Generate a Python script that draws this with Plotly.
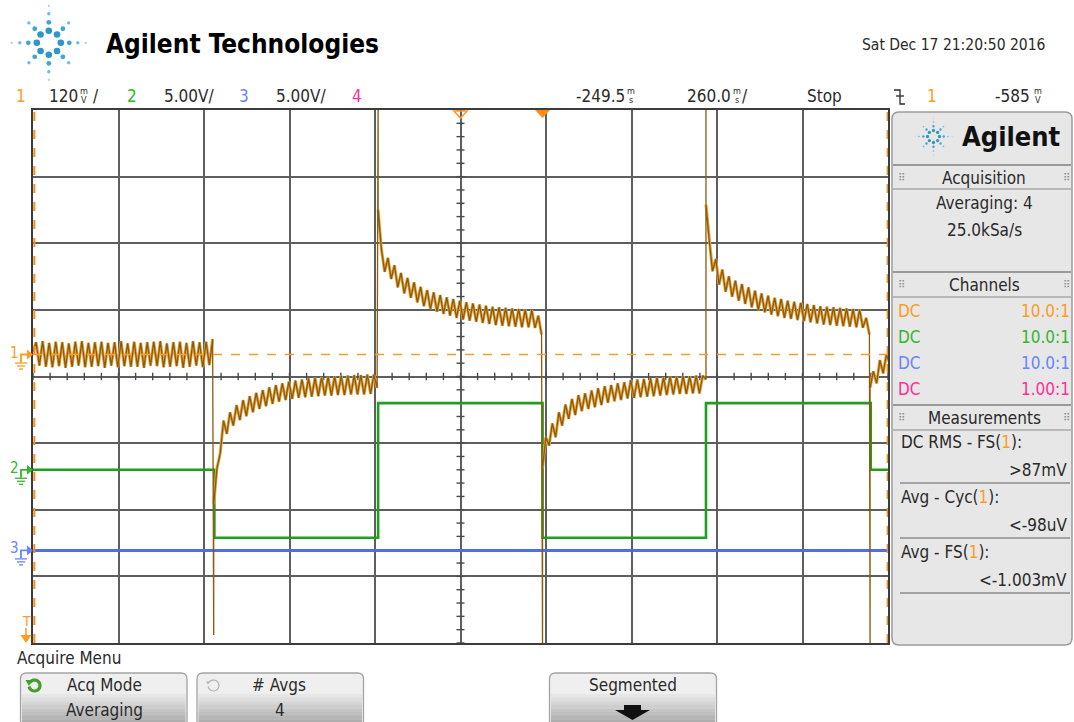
import math
import plotly.graph_objects as go

W, H = 1074, 722
GX0, GX1, GY0, GY1 = 33, 888, 110, 643          # graticule box (px)

# ---- acquisition / display settings ----
TIME_CENTER_MS = -249.5
MS_PER_DIV = 260.0
N_HDIV, N_VDIV = 10, 8
CH1_MV_PER_DIV = 120.0
CH2_V_PER_DIV = 5.0
CH3_V_PER_DIV = 5.0
CH1_POS_DIV = 0.33
CH2_POS_DIV = -1.40
CH3_POS_DIV = -2.61
SAMPLE_MS = 9.94

# ---- channel 1 (mV): averaged record, split at the switching edges ----
ch1_seg_start_ms = [-1550, -1000, -500, 0, 497, 996]
ch1_edge_peak_mv = [-505, 470, -540, 470, -540]
ch1_seg_a = [5, 22, -20, 24, -22, 21, -23, 23, -21, 22, -24, 20, -22, 23, -20, 24, -23, 21, -22, 22,
             -21, 23, -24, 21, -20, 22, -23, 24, -21, 20, -22, 23, -22, 21, -24, 22, -20, 23, -21, 24,
             -23, 20, -22, 22, -21, 23, -24, 21, -22, 24, -20, 22, -23, 23, -19, 28]
ch1_seg_b = [-270, -205, -178, -119, -143, -104, -128, -91, -118, -82, -111, -75, -104, -69, -98, -64,
             -93, -59, -89, -55, -85, -52, -82, -49, -80, -47, -78, -45, -77, -43, -76, -42, -75, -41,
             -74, -40, -74, -39, -73, -38, -73, -38, -72, -37, -72, -37, -72, -36, -71, -36, -60]
ch1_seg_c = [261, 190, 149, 174, 136, 161, 121, 147, 110, 138, 102, 130, 94, 122, 87, 116, 82, 112, 77,
             107, 73, 103, 70, 100, 66, 97, 63, 94, 61, 92, 59, 90, 57, 88, 55, 86, 53, 85, 52, 84, 51,
             83, 50, 82, 49, 81, 49, 80, 48, 70, 36]
ch1_seg_d = [-205, -149, -164, -124, -149, -104, -128, -90, -116, -80, -109, -73, -102, -70, -98, -65,
             -95, -61, -91, -57, -87, -55, -84, -52, -82, -50, -79, -46, -78, -45, -77, -44, -76, -43,
             -75, -42, -74, -41, -73, -40, -72, -40, -71, -39, -71, -39, -70, -38, -70, -38, -45]
ch1_seg_e = [270, 205, 150, 172, 126, 153, 113, 141, 104, 133, 97, 127, 91, 121, 85, 115, 80, 110, 76,
             106, 72, 102, 69, 100, 66, 97, 64, 95, 62, 93, 60, 91, 58, 89, 56, 87, 54, 86, 53, 85, 52,
             84, 51, 83, 50, 82, 49, 81, 48, 66, 36]
ch1_seg_f = [-60, -30, -52, -10, -34, 0, -16]

# ---- channel 2 (V): drive square wave, channel 3 (V): flat ----
ch2_edge_ms = [-1550, -998, -500, 0, 497, 998, 1051]
ch2_level_v = [0, -5.1, 5.0, -5.1, 5.0, 0, 0]
ch3_ms = [-1550, 1051]
ch3_v = [0, 0]

# ---- readouts ----
channel_probe = [("DC", "10.0:1"), ("DC", "10.0:1"), ("DC", "10.0:1"), ("DC", "1.00:1")]
measurements = [("DC RMS - FS", ">87mV"), ("Avg - Cyc", "<-98uV"), ("Avg - FS", "<-1.003mV")]

C1, C2, C3, C4 = "#ff9b1f", "#35b52a", "#6c82ff", "#ff2e95"
C1_HALO, C1_TRACE, C2_TRACE, C3_TRACE = "#e3a545", "#8c5a0a", "#1f9e1f", "#4d6ee8"
TXT = "#2a2a2a"
FONT = "Liberation Sans Narrow, DejaVu Sans Condensed, Arial Narrow, sans-serif"

T_LEFT = TIME_CENTER_MS - N_HDIV / 2 * MS_PER_DIV
T_RIGHT = TIME_CENTER_MS + N_HDIV / 2 * MS_PER_DIV


def t_px(t):
    return GX0 + (t - T_LEFT) / (T_RIGHT - T_LEFT) * (GX1 - GX0)


def div_py(d):
    return (GY0 + GY1) / 2 - d * (GY1 - GY0) / N_VDIV


def X(px):
    return px / W


def Y(py):
    return 1 - py / H


shapes, annotations = [], []


def text(x, y, s, size=17, color=TXT, anchor="left", bold=False, family=FONT):
    annotations.append(dict(x=X(x), y=Y(y), xref="paper", yref="paper", text=s, showarrow=False,
                            xanchor=anchor, yanchor="middle", borderpad=0,
                            font=dict(size=size, color=color, family=family,
                                      weight="bold" if bold else "normal")))


def stacked(x, y, top, bottom, color=TXT, size=9):
    text(x, y - 4.5, top, size=size, color=color, anchor="center")
    text(x, y + 4.5, bottom, size=size, color=color, anchor="center")


def line(x0, y0, x1, y1, color, width=1, dash=None):
    shapes.append(dict(type="line", xref="paper", yref="paper", x0=X(x0), y0=Y(y0), x1=X(x1),
                       y1=Y(y1), line=dict(color=color, width=width, dash=dash)))


def rect(x0, y0, x1, y1, fill, lc=None, lw=0):
    shapes.append(dict(type="rect", xref="paper", yref="paper", x0=X(x0), y0=Y(y0), x1=X(x1),
                       y1=Y(y1), fillcolor=fill, line=dict(color=lc or fill, width=lw)))


def circle(cx, cy, r, fill=None, lc=None, lw=0):
    shapes.append(dict(type="circle", xref="paper", yref="paper", x0=X(cx - r), y0=Y(cy + r),
                       x1=X(cx + r), y1=Y(cy - r), fillcolor=fill or "rgba(0,0,0,0)",
                       line=dict(color=lc or "rgba(0,0,0,0)", width=lw)))


def poly(pts, fill=None, lc=None, lw=0, closed=True):
    d = "M " + " L ".join(f"{X(x):.5f},{Y(y):.5f}" for x, y in pts) + (" Z" if closed else "")
    shapes.append(dict(type="path", xref="paper", yref="paper", path=d,
                       fillcolor=fill or "rgba(0,0,0,0)",
                       line=dict(color=lc or "rgba(0,0,0,0)", width=lw)))


def rrect(x0, y0, x1, y1, r, fill=None, lc=None, lw=0):
    def p(x, y):
        return f"{X(x):.5f},{Y(y):.5f}"
    d = (f"M {p(x0 + r, y0)} L {p(x1 - r, y0)} Q {p(x1, y0)} {p(x1, y0 + r)} "
         f"L {p(x1, y1 - r)} Q {p(x1, y1)} {p(x1 - r, y1)} L {p(x0 + r, y1)} "
         f"Q {p(x0, y1)} {p(x0, y1 - r)} L {p(x0, y0 + r)} Q {p(x0, y0)} {p(x0 + r, y0)} Z")
    shapes.append(dict(type="path", xref="paper", yref="paper", path=d,
                       fillcolor=fill or "rgba(0,0,0,0)",
                       line=dict(color=lc or "rgba(0,0,0,0)", width=lw)))


def starburst(cx, cy, s):
    ring_r = [12, 20.5, 29, 37]
    dot_r = [3.3, 2.4, 1.7, 1.1]
    shades = ["#2d97c9", "#3ea6d4", "#6cbde1", "#9dd2eb"]
    for k in range(8):
        a = math.radians(k * 45)
        n = 4 if k % 2 == 0 else 3
        for j in range(n):
            rr = ring_r[j] * s * (0.97 if k % 2 else 1.0)
            circle(cx + rr * math.cos(a), cy + rr * math.sin(a), dot_r[j] * s, fill=shades[j])


def arc(cx, cy, r, a0, a1, n=20):
    return [(cx + r * math.cos(math.radians(a0 + (a1 - a0) * i / n)),
             cy + r * math.sin(math.radians(a0 + (a1 - a0) * i / n))) for i in range(n + 1)]


# ---------------- header ----------------
starburst(48.8, 42.8, 1.0)
text(105, 44, "Agilent Technologies", size=26, color="#000", bold=True)
text(1046, 45, "Sat Dec 17 21:20:50 2016", size=15.5, anchor="right")

HY = 96
text(21, HY, "1", color=C1, anchor="center")
text(79, HY, "120", anchor="right")
stacked(84, HY, "m", "V")
text(96, HY, "/", anchor="center")
text(132, HY, "2", color=C2, anchor="center")
text(189, HY, "5.00V/", anchor="center")
text(244, HY, "3", color=C3, anchor="center")
text(301, HY, "5.00V/", anchor="center")
text(357, HY, "4", color=C4, anchor="center")
text(626, HY, "-249.5", anchor="right")
stacked(631, HY, "m", "s")
text(732, HY, "260.0", anchor="right")
stacked(736.5, HY, "m", "s")
text(745, HY, "/", anchor="center")
text(824, HY, "Stop", anchor="center")
poly([(894, 90), (900, 90), (900, 104), (905, 104)], lc=TXT, lw=1.3, closed=False)
line(896, 96, 904, 96, TXT, 1.3)
text(932, HY, "1", color=C1, anchor="center")
text(1031, HY, "-585", anchor="right")
stacked(1038, HY, "m", "V")

# ---------------- side panel ----------------
rrect(892, 112, 1072, 645, 7, fill="#e7e7e7", lc="#9c9c9c", lw=1.5)
starburst(933.5, 136.5, 0.5)
text(1011, 137, "Agilent", size=27, color="#111", bold=True, anchor="center")
for (ya, yb, title) in [(165, 189, "Acquisition"), (272, 297, "Channels"), (405, 430, "Measurements")]:
    line(893, ya, 1071, ya, "#9a9a9a", 2)
    line(893, yb, 1071, yb, "#a8a8a8", 1.5)
    text(984, (ya + yb) / 2 + 0.5, title, size=17, anchor="center")
    text(901, (ya + yb) / 2, "⠿", size=10, color="#8a8a8a", anchor="center", family="DejaVu Sans")
    text(1066, (ya + yb) / 2, "⠿", size=10, color="#8a8a8a", anchor="center", family="DejaVu Sans")
text(984, 203, "Averaging: 4", size=17, anchor="center")
text(984, 230, "25.0kSa/s", size=17, anchor="center")
for i, (cpl, probe) in enumerate(channel_probe):
    col = [C1, C2, C3, C4][i]
    yy = 311 + i * 26
    text(897, yy, cpl, size=17, color=col)
    text(1071, yy, probe, size=17, color=col, anchor="right")
for i, (name, val) in enumerate(measurements):
    y0 = 442 + i * 55
    text(900, y0, f"{name}(<span style='color:{C1}'>1</span>):", size=17)
    text(1068, y0 + 28, val, size=17, anchor="right")
    line(900, y0 + 41, 1070, y0 + 41, "#8c8c8c", 1.3)

# ---------------- soft-key menu ----------------
text(16, 658, "Acquire Menu", size=17)


def button(x0, x1, y0=673, y1=735):
    rrect(x0, y0, x1, y1, 6, fill="#efefef")
    steps = 8
    for k in range(steps):
        g = int(0xe6 - (0xe6 - 0xae) * k / (steps - 1))
        rect(x0 + 1.5, 694 + k * 3.6, x1 - 1.5, 694 + (k + 1) * 3.6 + 0.3, f"rgb({g},{g},{g})")
    rrect(x0, y0, x1, y1, 6, lc="#a4a4a4", lw=1.3)


button(20.5, 187)
button(197, 363.5)
button(549.5, 716.5)
# mode icons
poly(arc(34.5, 685.5, 5.5, -150, 170), lc="#3f9f28", lw=3.2, closed=False)
poly([(25.5, 680), (32.5, 680), (29, 686)], fill="#3f9f28")
poly(arc(213.5, 685.5, 5.5, -150, 170), lc="#b4b4b4", lw=1.2, closed=False)
poly([(206, 681.5), (210, 681.5), (208, 684.5)], fill="#b4b4b4")
text(104, 685, "Acq Mode", size=17, anchor="center")
text(104, 710, "Averaging", size=17, anchor="center")
text(279, 685, "# Avgs", size=17, anchor="center")
text(280, 710, "4", size=17, anchor="center")
text(633, 685, "Segmented", size=17, anchor="center")
poly([(624, 705), (641, 705), (641, 710), (650, 710), (632.5, 720), (615, 710), (624, 710)], fill="#111")

# ---------------- graticule decorations ----------------
tick_x, tick_y = [], []
for k in range(-N_HDIV * 5 // 2, N_HDIV * 5 // 2 + 1):
    t = TIME_CENTER_MS + k * MS_PER_DIV / 5
    tick_x += [t, t, None]
    tick_y += [-0.055, 0.055, None]
half_w = 4.0 / (GX1 - GX0) * (T_RIGHT - T_LEFT)
for k in range(-N_VDIV * 5 // 2, N_VDIV * 5 // 2 + 1):
    d = k / 5
    tick_x += [TIME_CENTER_MS - half_w, TIME_CENTER_MS + half_w, None]
    tick_y += [d, d, None]

# orange cursors / reference level
shapes.append(dict(type="line", xref="x", yref="y", x0=T_LEFT, x1=T_RIGHT, y0=CH1_POS_DIV,
                   y1=CH1_POS_DIV, line=dict(color="#ff9a2a", width=1.4, dash="dash")))
for tx in (T_LEFT + 4, T_RIGHT - 1):
    shapes.append(dict(type="line", xref="x", yref="y", x0=tx, x1=tx, y0=-4, y1=4,
                       line=dict(color="#ff8c1a", width=2, dash="dash")))

# top markers: delay (hollow) and trigger point (filled)
cx = t_px(TIME_CENTER_MS)
poly([(cx - 6.5, 111), (cx + 6.5, 111), (cx, 118)], lc="#ff9a2a", lw=1.6)
tx = t_px(0)
poly([(tx - 7.5, 110), (tx + 7.5, 110), (tx, 118)], fill="#ff8c1a")


def ground_marker(py, color, label):
    text(14.5, py - 2, label, size=15, color=color, anchor="center")
    poly([(21, py + 8), (21, py), (27, py)], lc=color, lw=1.8, closed=False)
    poly([(27, py - 5), (33, py), (27, py + 5)], fill=color)
    line(15, py + 8.5, 27, py + 8.5, color, 1.3)
    line(17, py + 11.5, 25, py + 11.5, color, 1.3)
    line(19, py + 14.5, 23, py + 14.5, color, 1.3)


ground_marker(div_py(CH1_POS_DIV), C1, "1")
ground_marker(div_py(CH2_POS_DIV), C2, "2")
ground_marker(div_py(CH3_POS_DIV), C3, "3")
# trigger level marker
text(26, 621, "T", size=14, color=C1, anchor="center")
line(26, 628, 26, 637, C1, 1.5)
poly([(20.5, 635), (31.5, 635), (26, 643)], fill=C1)

# ---------------- traces ----------------
segments = [ch1_seg_a, ch1_seg_b, ch1_seg_c, ch1_seg_d, ch1_seg_e, ch1_seg_f]
t1, v1 = [], []          # full record including the edge spikes
th, vh = [], []          # ripple body only (broken at the edges)
for i, seg in enumerate(segments):
    t0 = ch1_seg_start_ms[i]
    for k, v in enumerate(seg):
        t1.append(t0 + k * SAMPLE_MS)
        v1.append(v)
        th.append(t0 + k * SAMPLE_MS)
        vh.append(v)
    th.append(None)
    vh.append(None)
    if i < len(ch1_edge_peak_mv):
        t1.append(ch1_seg_start_ms[i + 1])
        v1.append(ch1_edge_peak_mv[i])
y1 = [v / CH1_MV_PER_DIV + CH1_POS_DIV for v in v1]
yh = [None if v is None else v / CH1_MV_PER_DIV + CH1_POS_DIV for v in vh]
y2 = [v / CH2_V_PER_DIV + CH2_POS_DIV for v in ch2_level_v]
y3 = [v / CH3_V_PER_DIV + CH3_POS_DIV for v in ch3_v]

fig = go.Figure()
fig.add_trace(go.Scatter(x=tick_x, y=tick_y, mode="lines", line=dict(color="#4a4a4a", width=1.4),
                         hoverinfo="skip", showlegend=False))
fig.add_trace(go.Scatter(x=ch3_ms, y=y3, mode="lines", line=dict(color=C3_TRACE, width=3),
                         name="3", showlegend=False))
fig.add_trace(go.Scatter(x=ch2_edge_ms, y=y2, mode="lines", line=dict(color=C2_TRACE, width=2.6, shape="hv"),
                         name="2", showlegend=False))
fig.add_trace(go.Scatter(x=th, y=yh, mode="lines", line=dict(color=C1_HALO, width=3.0),
                         hoverinfo="skip", showlegend=False, connectgaps=False))
fig.add_trace(go.Scatter(x=t1, y=y1, mode="lines", line=dict(color=C1_TRACE, width=1.3),
                         name="1", showlegend=False))

fig.update_xaxes(range=[T_LEFT, T_RIGHT], domain=[X(GX0), X(GX1)], tick0=TIME_CENTER_MS,
                 dtick=MS_PER_DIV, showgrid=True, gridcolor="#5e5e5e", gridwidth=1.6,
                 zeroline=False, showticklabels=False, ticks="", showline=True, mirror=True,
                 linecolor="#3c3c3c", linewidth=2, fixedrange=True)
fig.update_yaxes(range=[-N_VDIV / 2, N_VDIV / 2], domain=[Y(GY1), Y(GY0)], tick0=0, dtick=1,
                 showgrid=True, gridcolor="#5e5e5e", gridwidth=1.6, zeroline=False,
                 showticklabels=False, ticks="", showline=True, mirror=True,
                 linecolor="#3c3c3c", linewidth=2, fixedrange=True)
fig.update_layout(width=W, height=H, margin=dict(l=0, r=0, t=0, b=0), paper_bgcolor="white",
                  plot_bgcolor="white", shapes=shapes, annotations=annotations,
                  font=dict(family=FONT, color=TXT), showlegend=False)
fig.write_html("out.html", config={"displayModeBar": False})
